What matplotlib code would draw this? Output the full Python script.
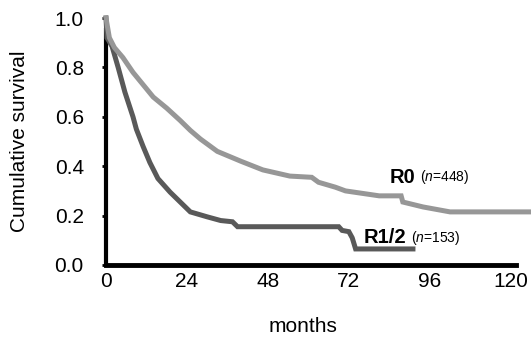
import matplotlib
matplotlib.use("Agg")
import matplotlib.pyplot as plt

plt.rcParams['font.family'] = ['Liberation Sans', 'DejaVu Sans']
plt.rcParams['mathtext.fontset'] = 'custom'
plt.rcParams['mathtext.it'] = 'Liberation Sans:italic'
plt.rcParams['mathtext.rm'] = 'Liberation Sans'

# survival curves (months, cumulative survival)
r0_months = [0, 1, 2.5, 5, 8, 11, 14, 18, 22, 25, 28, 33, 40, 46.5, 54.5, 61, 63, 68,
             71, 76, 81, 87.5, 88, 94, 102, 126]
r0_surv = [1.0, 0.92, 0.88, 0.84, 0.78, 0.73, 0.68, 0.635, 0.585, 0.545, 0.51, 0.46,
           0.42, 0.385, 0.36, 0.355, 0.335, 0.315, 0.30, 0.29, 0.28, 0.28, 0.255,
           0.235, 0.215, 0.215]

r12_months = [0, 0.3, 1.8, 3.6, 5.6, 8, 9, 11, 13, 15.4, 19, 22, 25, 30, 34, 37.5, 39,
              69, 70, 72, 73, 74, 91]
r12_surv = [1.0, 0.92, 0.885, 0.80, 0.70, 0.60, 0.55, 0.48, 0.415, 0.35, 0.295, 0.255,
            0.215, 0.195, 0.18, 0.175, 0.155, 0.155, 0.14, 0.135, 0.11, 0.065, 0.065]

x_ticks = [0, 24, 48, 72, 96, 120]
y_ticks = [0.0, 0.2, 0.4, 0.6, 0.8, 1.0]

fig = plt.figure(figsize=(5.31, 3.37), dpi=100)
ax = fig.add_axes([106 / 531, 72 / 337, 425 / 531, 247 / 337])

# PLOT THE CURVES
ax.plot(r12_months, r12_surv, color="#595959", lw=3.6, clip_on=False, zorder=3,
        solid_joinstyle="miter")
ax.plot(r0_months, r0_surv, color="#979797", lw=3.6, clip_on=False, zorder=4,
        solid_joinstyle="miter")

# LABELS ON THE CURVES
ax.text(84, 0.355, "R0", fontsize=14.5, fontweight="bold", va="center")
ax.text(93, 0.355, r"($\it{n}$=448)", fontsize=10, va="center")
ax.text(76.5, 0.11, "R1/2", fontsize=14.5, fontweight="bold", va="center")
ax.text(90.5, 0.11, r"($\it{n}$=153)", fontsize=10, va="center")

# AXES
ax.set_xlim(0, 126)
ax.set_ylim(0, 1.0)
ax.set_xticks(x_ticks)
ax.set_yticks(y_ticks)
ax.set_yticklabels([f"{v:.1f}" for v in y_ticks])
ax.tick_params(axis="x", length=0, pad=5, labelsize=15)
ax.tick_params(axis="y", length=3, width=2, pad=13, labelsize=15)
for side in ["top", "right"]:
    ax.spines[side].set_visible(False)
ax.spines["left"].set_linewidth(3)
ax.spines["bottom"].set_linewidth(3.5)
ax.spines["left"].set_bounds(0, 0.95)
ax.spines["bottom"].set_bounds(0, 121.5)

ax.set_xlabel("months", fontsize=15)
ax.xaxis.set_label_coords(0.4635, -0.21)
ax.set_ylabel("Cumulative survival", fontsize=15)
ax.yaxis.set_label_coords(-0.18, 0.5)

fig.savefig("out.png", dpi=100)
